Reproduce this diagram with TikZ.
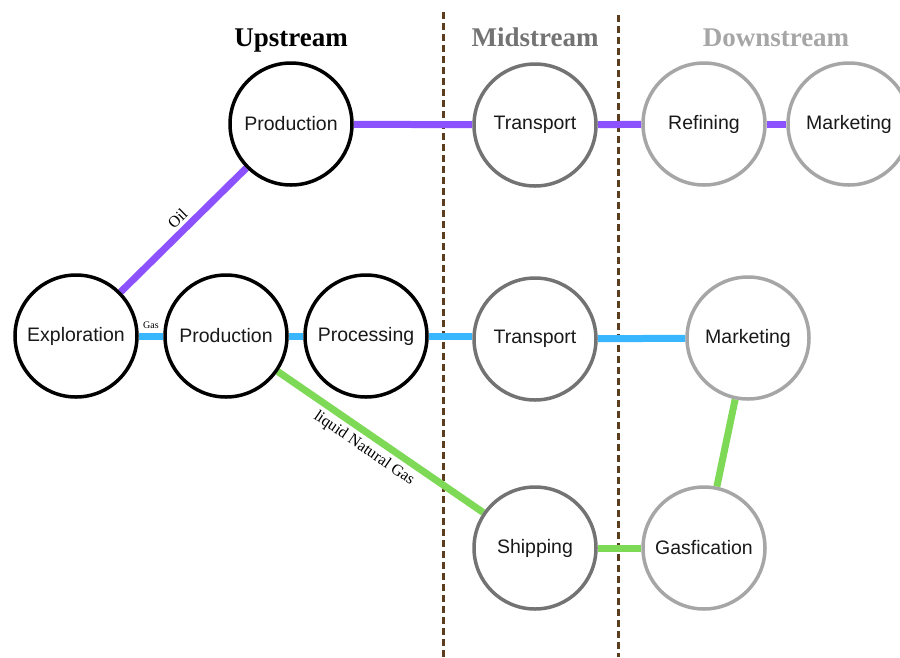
\documentclass[tikz,border=0pt]{standalone}
\usepackage{fontspec}
\setmainfont{Liberation Serif}
\newfontfamily\nodefont{Liberation Sans}
\usetikzlibrary{backgrounds}

\definecolor{oilpurple}{HTML}{8C52FF}
\definecolor{gasblue}{HTML}{38B6FF}
\definecolor{lnggreen}{HTML}{7ED957}
\definecolor{midgray}{HTML}{737373}
\definecolor{downgray}{HTML}{A6A6A6}
\definecolor{divider}{HTML}{5C3D1E}

\tikzset{
  stage/.style={circle, fill=white, line width=3.5pt, minimum size=122pt,
    inner sep=0pt, font=\nodefont\fontsize{19.5}{21}\selectfont, text=black!90},
  upnode/.style={stage, draw=black},
  midnode/.style={stage, draw=midgray},
  downnode/.style={stage, draw=downgray},
  pipe/.style={line width=7pt},
  oil/.style={pipe, draw=oilpurple},
  gas/.style={pipe, draw=gasblue},
  lng/.style={pipe, draw=lnggreen},
  heading/.style={font=\bfseries\fontsize{27}{30}\selectfont, anchor=base},
  divline/.style={draw=divider, line width=3pt, dash pattern=on 7pt off 4pt},
  edgelabel/.style={font=\fontsize{16}{17}\selectfont, sloped, inner sep=1pt}
}

\begin{document}
\begin{tikzpicture}[x=1pt, y=-1pt]
  \useasboundingbox (0,0) rectangle (900,657);
  \clip (0,0) rectangle (900,657);

  % section headings
  \node[heading, text=black] (hup) at (291,46) {Upstream};
  \node[heading, text=midgray] (hmid) at (535,46) {Midstream};
  \node[heading, text=downgray] (hdown) at (776,46) {Downstream};

  % upstream stages
  \node[upnode] (prodoil) at (291,124) {Production};
  \node[upnode] (explor) at (76,336) {Exploration};
  \node[upnode] (prodgas) at (226,336) {Production};
  \node[upnode] (proc) at (366,336) {Processing};

  % midstream stages
  \node[midnode] (transoil) at (535,125) {Transport};
  \node[midnode] (transgas) at (535,339) {Transport};
  \node[midnode] (ship) at (535,548) {Shipping};

  % downstream stages
  \node[downnode] (refin) at (704,124) {Refining};
  \node[downnode] (mktoil) at (849,124) {Marketing};
  \node[downnode] (mktgas) at (748,338) {Marketing};
  \node[downnode] (gasif) at (704,548) {Gasfication};

  \begin{pgfonlayer}{background}
    % section dividers
    \coordinate (d1top) at (443,12);
    \coordinate (d1bot) at (443,657);
    \coordinate (d2top) at (618,15);
    \coordinate (d2bot) at (618,657);
    \draw[divline] (d1top) -- (d1bot);
    \draw[divline] (d2top) -- (d2bot);

    % oil line
    \draw[oil] (explor) -- (prodoil)
      node[pos=0.52, above=2pt, edgelabel] {Oil};
    \draw[oil] (prodoil) -- (transoil);
    \draw[oil] (transoil) -- (refin);
    \draw[oil] (refin) -- (mktoil);

    % gas line
    \draw[gas] (explor.east) -- (prodgas.west)
      node[pos=0.5, above=4pt, font=\fontsize{10}{11}\selectfont, inner sep=0pt] {Gas};
    \draw[gas] (prodgas) -- (proc);
    \draw[gas] (proc.east) -- (transgas.west |- proc.east);
    \draw[gas] (transgas) -- (mktgas);

    % liquefied gas line
    \draw[lng] (prodgas) -- (ship)
      node[pos=0.46, below=3pt, edgelabel] {liquid Natural Gas};
    \draw[lng] (ship) -- (gasif);
    \draw[lng] (gasif) -- (mktgas);
  \end{pgfonlayer}
\end{tikzpicture}
\end{document}
